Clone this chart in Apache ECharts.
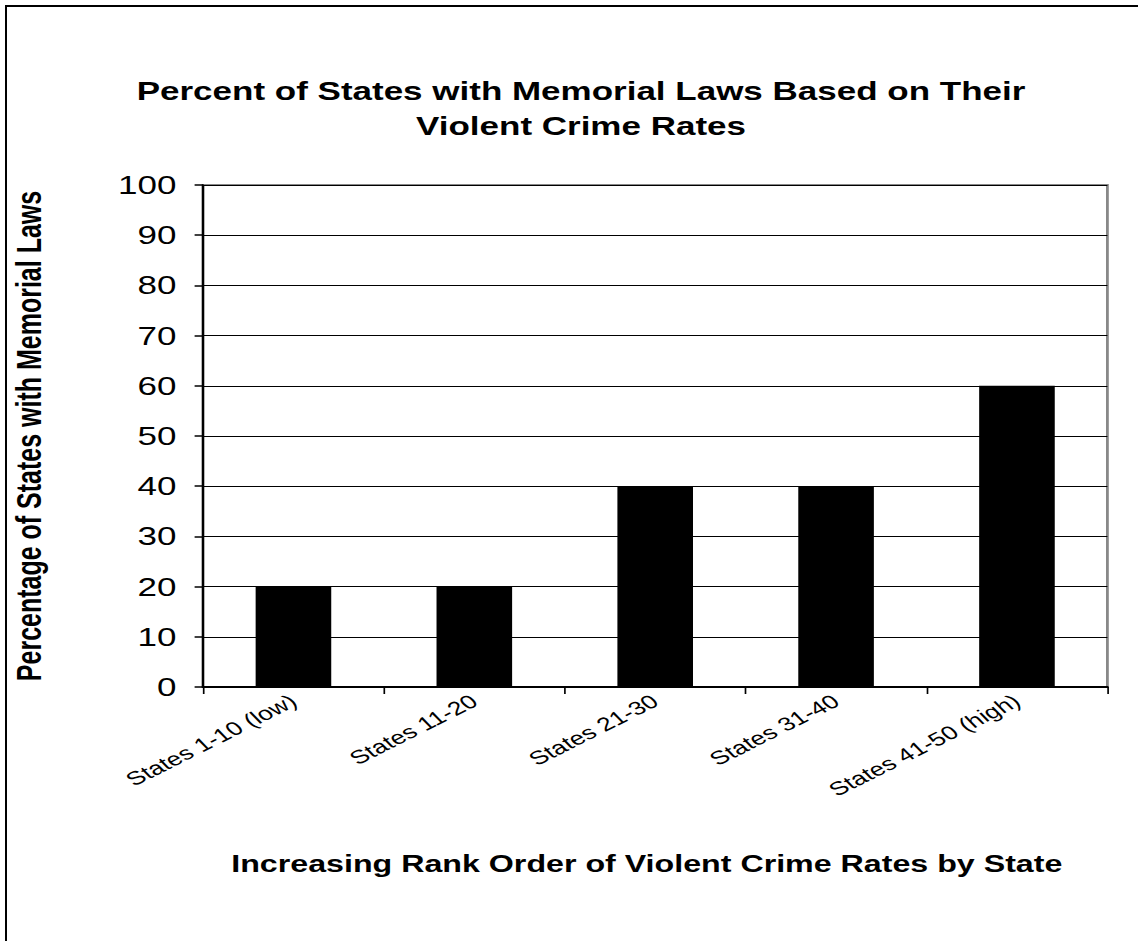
<!DOCTYPE html>
<html>
<head>
<meta charset="utf-8">
<script src="https://cdn.jsdelivr.net/npm/echarts@6/dist/echarts.min.js"></script>
<style>
  html, body { margin: 0; padding: 0; background: #fff; overflow: hidden; width: 1138px; height: 941px; }
  #frame { position: absolute; left: 5px; top: 5px; width: 1200px; height: 1000px; border-left: 2px solid #000; border-top: 2px solid #000; }
  #chart { position: absolute; left: 0; top: 0; width: 813px; height: 941px; transform: scaleX(1.4); transform-origin: 0 0; }
</style>
</head>
<body>
<div id="frame"></div>
<div id="chart"></div>
<script>
const categories = ['States 1-10 (low)', 'States 11-20', 'States 21-30', 'States 31-40', 'States 41-50 (high)'];
const percentValues = [20, 20, 40, 40, 60];
const titleText = 'Percent of States with Memorial Laws Based on Their\nViolent Crime Rates';
const yAxisTitle = 'Percentage of States with Memorial Laws';
const xAxisTitle = 'Increasing Rank Order of Violent Crime Rates by State';

const chart = echarts.init(document.getElementById('chart'), null, { renderer: 'svg' });
const fontFam = 'Liberation Sans, Arial, sans-serif';
chart.setOption({
  backgroundColor: 'transparent',
  animation: false,
  title: [
    {
      text: titleText,
      left: 410, top: 68, textAlign: 'center',
      textStyle: { fontFamily: fontFam, fontSize: 25, fontWeight: 'bold', color: '#000', lineHeight: 35, align: 'center' }
    },
    {
      text: xAxisTitle,
      left: 457, top: 848, textAlign: 'center',
      textStyle: { fontFamily: fontFam, fontSize: 23, fontWeight: 'bold', color: '#000' }
    }
  ],
  grid: { left: 141, top: 185, right: 22, bottom: 254, show: true, borderColor: '#888', borderWidth: 2, backgroundColor: 'transparent' },
  xAxis: {
    type: 'category',
    data: categories,
    boundaryGap: true,
    axisLine: { show: true, lineStyle: { color: '#000', width: 2 } },
    axisTick: { show: true, length: 7, inside: false, lineStyle: { color: '#000', width: 1.2 }, alignWithLabel: false },
    axisLabel: { rotate: 35, interval: 0, margin: 12, fontFamily: fontFam, fontSize: 19, color: '#000' }
  },
  yAxis: {
    type: 'value',
    min: 0, max: 100, interval: 10,
    name: yAxisTitle,
    nameLocation: 'middle',
    nameGap: 112,
    nameRotate: 90,
    nameTextStyle: { fontFamily: fontFam, fontSize: 25, fontWeight: 'bold', color: '#000' },
    axisLine: { show: true, lineStyle: { color: '#000', width: 1.6 } },
    axisTick: { show: true, length: 6, lineStyle: { color: '#000', width: 1.5 } },
    axisLabel: { margin: 19, fontFamily: fontFam, fontSize: 25, color: '#000' },
    splitLine: { show: true, lineStyle: { color: '#000', width: 1.2 } }
  },
  series: [{
    type: 'bar',
    data: percentValues,
    barWidth: 54,
    itemStyle: { color: '#000' }
  }]
});
</script>
</body>
</html>
